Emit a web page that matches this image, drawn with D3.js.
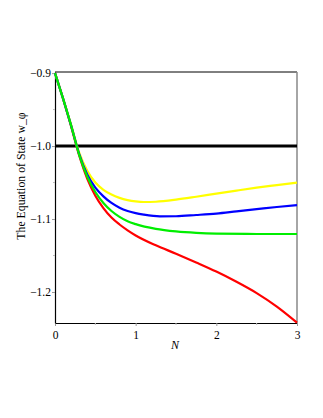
<!DOCTYPE html>
<html><head><meta charset="utf-8">
<script src="https://cdn.jsdelivr.net/npm/d3@7"></script>
<style>body{margin:0;background:#fff}</style>
</head><body>
<svg id="c" width="323" height="418"></svg>
<script>
const N_red   = [0,0.1,0.2,0.3,0.4,0.5,0.6,0.7,0.8,0.9,1.0,1.25,1.5,1.75,2.0,2.25,2.5,2.75,3.0];
const w_red   = [-0.9,-0.935,-0.973,-1.013,-1.045,-1.068,-1.085,-1.098,-1.1075,-1.1155,-1.1225,-1.136,-1.1475,-1.1595,-1.172,-1.186,-1.2015,-1.22,-1.242];
const N_yel   = [0,0.1,0.2,0.3,0.4,0.5,0.6,0.7,0.8,0.9,1.0,1.1,1.25,1.5,1.75,2.0,2.25,2.5,2.75,3.0];
const w_yel   = [-0.9,-0.935,-0.971,-1.009,-1.034,-1.050,-1.060,-1.0665,-1.071,-1.074,-1.0758,-1.0767,-1.0763,-1.0735,-1.0695,-1.0652,-1.061,-1.057,-1.0535,-1.050];
const N_blu   = [0,0.1,0.2,0.3,0.4,0.5,0.6,0.7,0.8,0.9,1.0,1.1,1.3,1.5,1.75,2.0,2.25,2.5,2.75,3.0];
const w_blu   = [-0.9,-0.935,-0.972,-1.011,-1.039,-1.057,-1.069,-1.078,-1.0845,-1.089,-1.092,-1.094,-1.0963,-1.0962,-1.0945,-1.0925,-1.0895,-1.0865,-1.0835,-1.081];
const N_grn   = [0,0.1,0.2,0.3,0.4,0.5,0.6,0.7,0.8,0.9,1.0,1.25,1.5,1.75,2.0,2.5,3.0];
const w_grn   = [-0.9,-0.935,-0.972,-1.012,-1.042,-1.063,-1.078,-1.089,-1.097,-1.103,-1.107,-1.1135,-1.117,-1.119,-1.12,-1.1205,-1.1205];
const hline   = -1.0;
const xTicks  = [0,1,2,3];
const xTickLabels = ["0","1","2","3"];
const yTicks  = [-0.9,-1.0,-1.1,-1.2];
const yTickLabels = ["\u22120.9","\u22121.0","\u22121.1","\u22121.2"];
const xMinor  = [0.5,1.5,2.5];
const yMinor  = [-0.95,-1.05,-1.15];

const svg = d3.select("#c");
const x = d3.scaleLinear().domain([0,3]).range([55,297]);
const y = d3.scaleLinear().domain([-0.8985,-1.2425]).range([72,323]);
const font = "'Liberation Serif','Times New Roman',serif";

// box
svg.append("line").attr("x1",55).attr("x2",297).attr("y1",72).attr("y2",72).attr("stroke","#000").attr("stroke-width",1);
svg.append("line").attr("x1",297).attr("x2",297).attr("y1",72).attr("y2",323).attr("stroke","#888").attr("stroke-width",1.5);

const xAxis = svg.append("g").attr("transform","translate(0,323)")
  .call(d3.axisBottom(x).tickValues(xTicks).tickFormat((d,i)=>xTickLabels[i]).tickSize(3).tickSizeOuter(0));
const yAxis = svg.append("g").attr("transform","translate(55,0)")
  .call(d3.axisLeft(y).tickValues(yTicks).tickFormat((d,i)=>yTickLabels[i]).tickSize(3).tickSizeOuter(0));
[xAxis,yAxis].forEach(g=>{
  g.select(".domain").attr("stroke","#000").attr("stroke-width",1.2);
  g.selectAll(".tick line").attr("stroke","#999");
  g.selectAll("text").attr("font-family",font).attr("font-size",11.5).attr("fill","#000");
});
xAxis.selectAll("text").attr("dy","0.85em");
yAxis.selectAll("text").attr("x",-4);
svg.append("g").selectAll("line").data(xMinor).join("line")
  .attr("x1",d=>x(d)).attr("x2",d=>x(d)).attr("y1",323).attr("y2",325).attr("stroke","#bbb");
svg.append("g").selectAll("line").data(yMinor).join("line")
  .attr("x1",53).attr("x2",55).attr("y1",d=>y(d)).attr("y2",d=>y(d)).attr("stroke","#bbb");

// labels
svg.append("text").attr("x",175).attr("y",349).attr("text-anchor","middle")
  .attr("font-family",font).attr("font-style","italic").attr("font-size",12).text("N");
svg.append("text").attr("transform","translate(25,176) rotate(-90)").attr("text-anchor","middle")
  .attr("font-family",font).attr("font-size",11.8).text("The Equation of State w_\u03c6");

// horizontal line
svg.append("line").attr("x1",x(0)+1).attr("x2",x(3)).attr("y1",y(hline)).attr("y2",y(hline))
  .attr("stroke","#000").attr("stroke-width",3);

const line = d3.line().x(d=>x(d[0])).y(d=>y(d[1])).curve(d3.curveMonotoneX);
const series = [[N_red,w_red,"#ff0000"],[N_yel,w_yel,"#ffff00"],[N_blu,w_blu,"#0000ff"],[N_grn,w_grn,"#00ee00"]];
series.forEach(([n,w,c])=>{
  svg.append("path").datum(n.map((v,i)=>[v,w[i]])).attr("d",line)
    .attr("fill","none").attr("stroke",c).attr("stroke-width",2.2);
});
</script>
</body></html>
